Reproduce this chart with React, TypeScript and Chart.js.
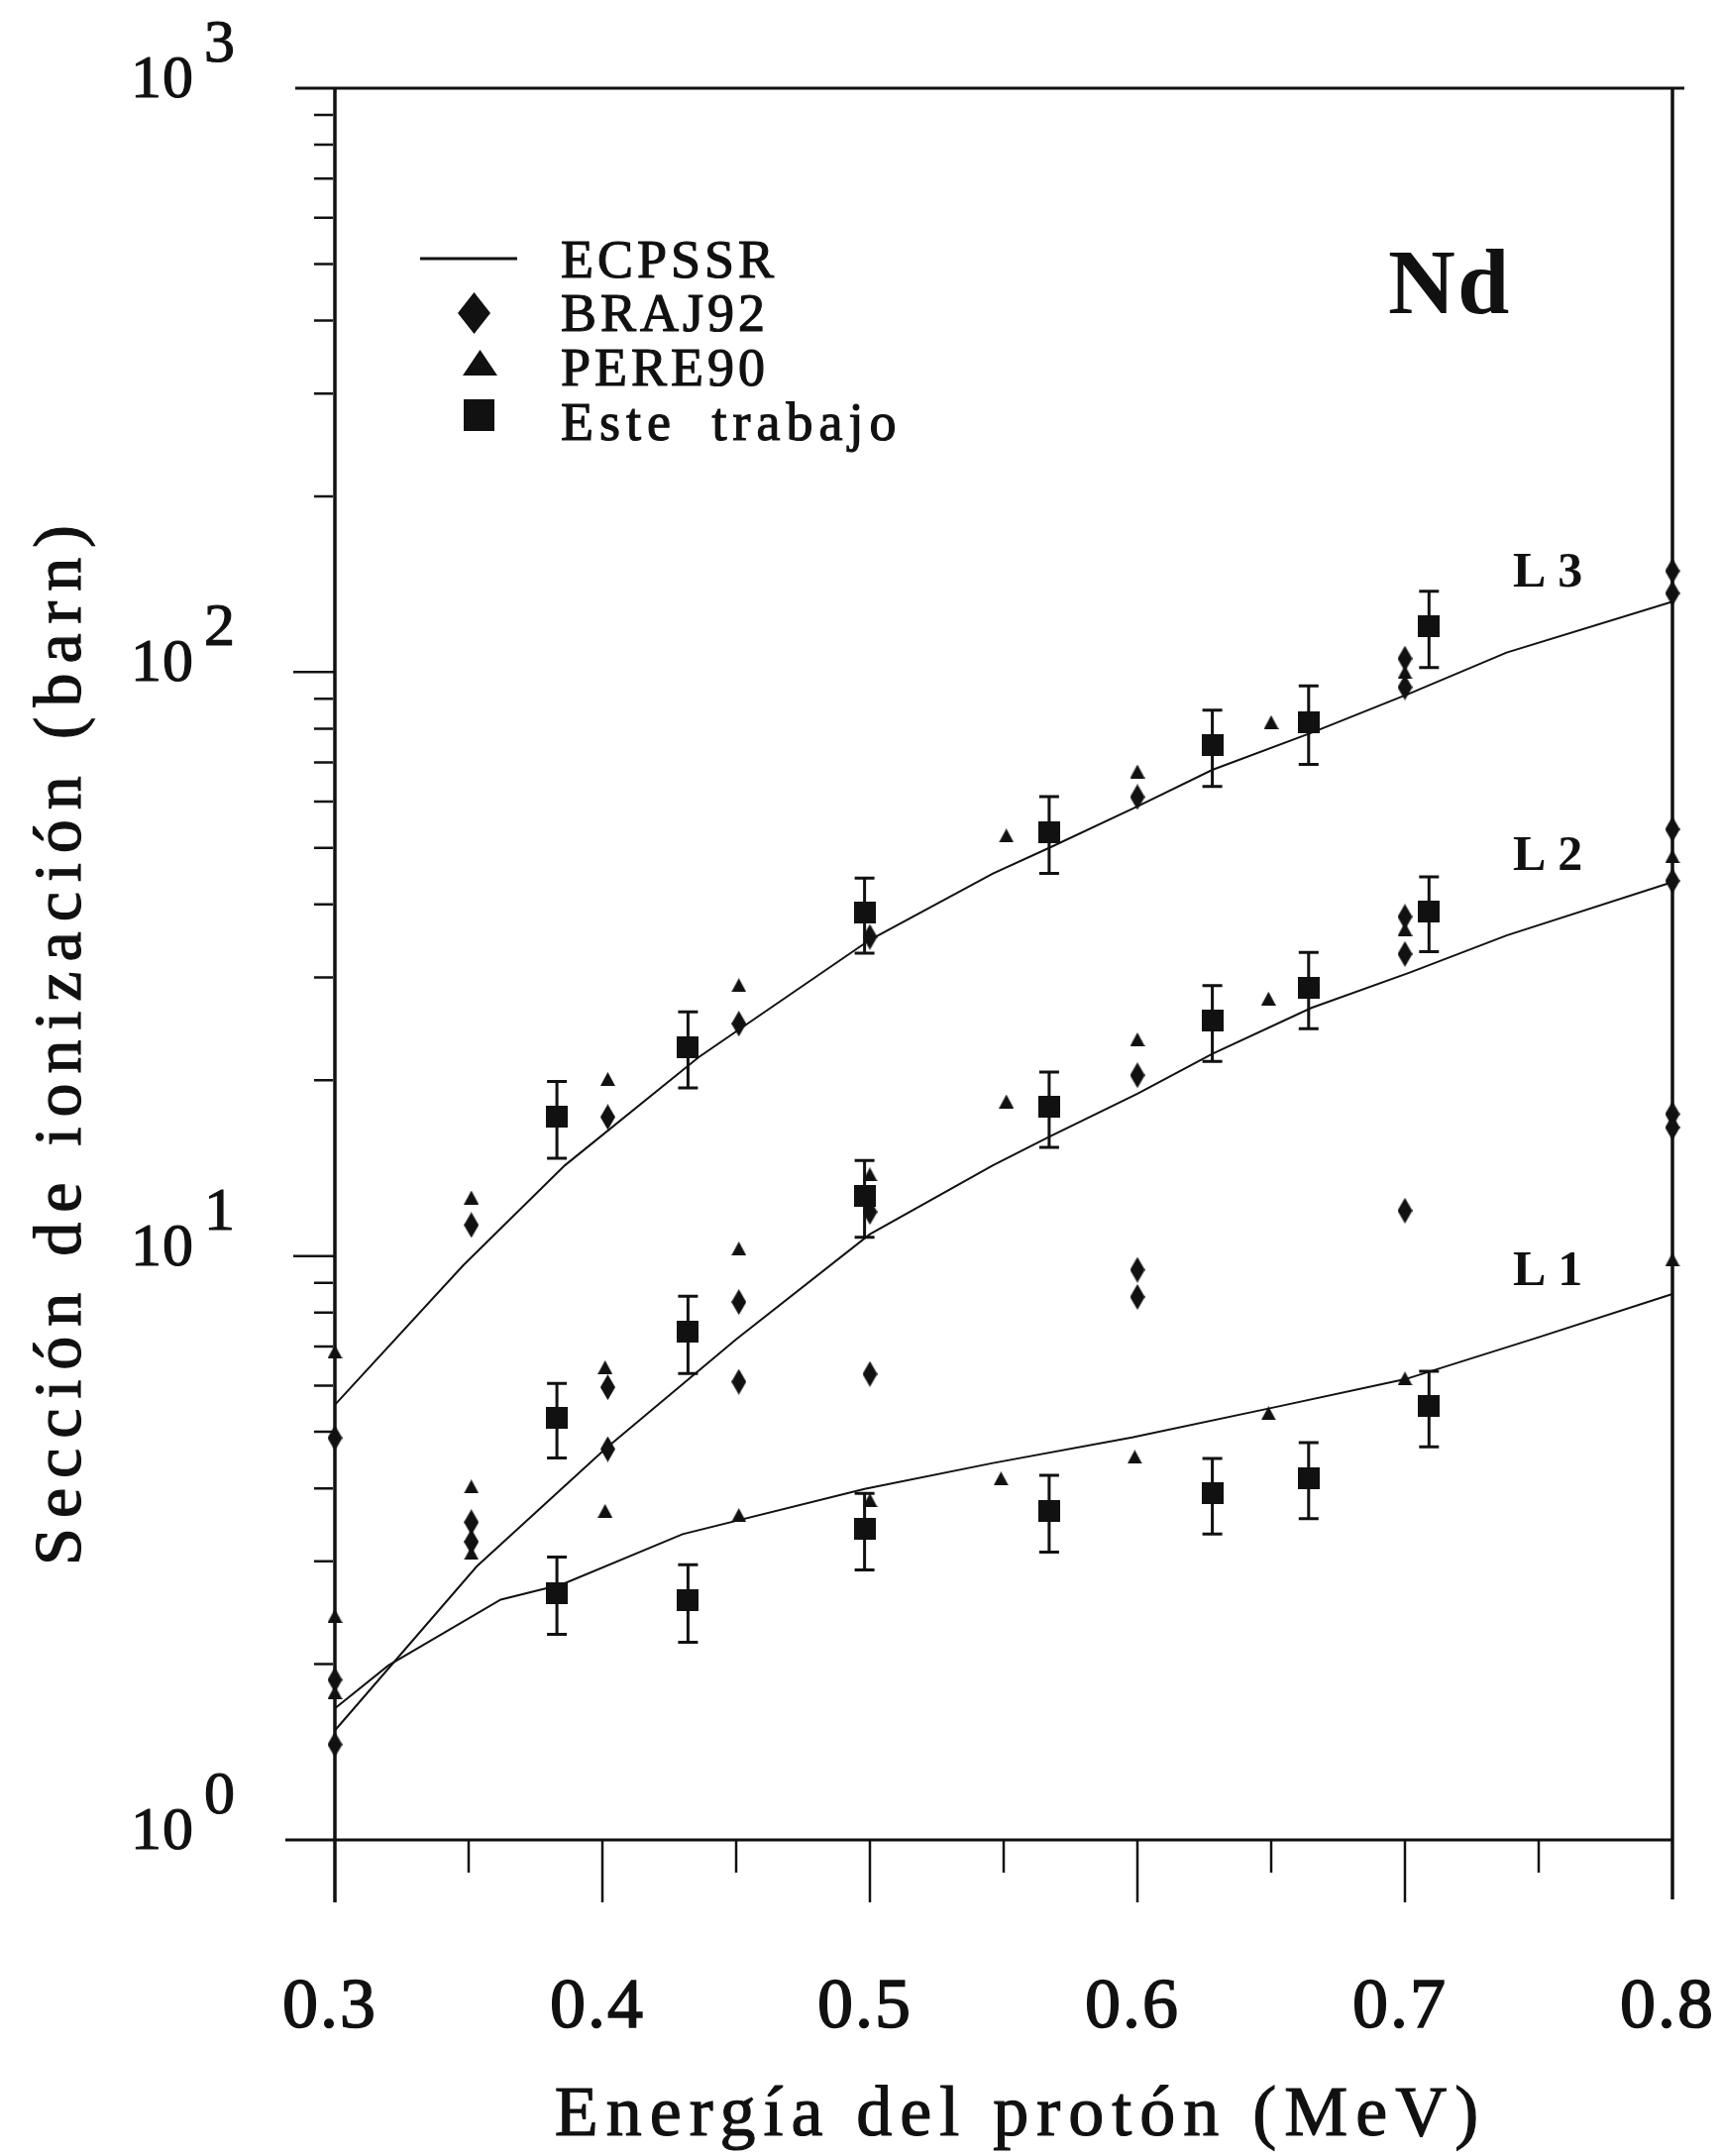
import React, { useEffect, useRef } from "react";
import { Chart, registerables } from "chart.js";

Chart.register(...registerables);

const W = 1737;
const H = 2176;
const INK = "#111";
const SERIF = '"Liberation Serif", "DejaVu Serif", serif';

// ECPSSR theory curves (energy in MeV, cross section in barn)
const ecpssrEnergyL3 = [0.3, 0.348, 0.386, 0.436, 0.5, 0.546, 0.567, 0.6, 0.628, 0.665, 0.702, 0.738, 0.8];
const ecpssrL3 = [5.56, 9.64, 14.3, 21.9, 34.8, 45.2, 50.0, 58.9, 68.0, 78.7, 92.0, 108, 132];
const ecpssrEnergyL2 = [0.3, 0.353, 0.401, 0.45, 0.5, 0.546, 0.567, 0.6, 0.628, 0.665, 0.702, 0.738, 0.8];
const ecpssrL2 = [1.54, 2.94, 4.67, 7.2, 10.9, 14.3, 16.0, 18.96, 22.2, 26.6, 30.6, 35.4, 43.7];
const ecpssrEnergyL1 = [0.3, 0.32, 0.362, 0.385, 0.43, 0.498, 0.546, 0.598, 0.649, 0.7, 0.75, 0.8];
const ecpssrL1 = [1.68, 1.99, 2.58, 2.74, 3.34, 3.99, 4.42, 4.89, 5.48, 6.15, 7.26, 8.61];

// BRAJ92
const brajEnergyL3 = [0.3, 0.351, 0.402, 0.451, 0.5, 0.6, 0.7, 0.7, 0.8, 0.8];
const brajL3 = [4.88, 11.3, 17.3, 25.0, 35.2, 61.1, 105.5, 94.2, 149, 136.5];
const brajEnergyL2 = [0.3, 0.351, 0.402, 0.451, 0.5, 0.6, 0.7, 0.7, 0.8, 0.8];
const brajL2 = [1.88, 3.5, 5.96, 8.34, 11.9, 20.4, 38.1, 32.9, 53.8, 43.9];
const brajEnergyL1 = [0.3, 0.351, 0.402, 0.451, 0.5, 0.6, 0.6, 0.7, 0.8, 0.8];
const brajL1 = [1.457, 3.24, 4.67, 6.09, 6.28, 9.47, 8.51, 11.96, 17.5, 16.6];

// PERE90
const pereEnergyL3 = [0.3, 0.351, 0.402, 0.451, 0.551, 0.6, 0.65, 0.7];
const pereL3 = [6.86, 12.6, 20.1, 29.1, 52.5, 67.6, 82.1, 100];
const pereEnergyL2 = [0.3, 0.351, 0.401, 0.451, 0.5, 0.551, 0.6, 0.649, 0.7, 0.8];
const pereL2 = [2.42, 4.03, 6.45, 10.3, 13.8, 18.4, 23.5, 27.6, 36.3, 48.4];
const pereEnergyL1 = [0.3, 0.351, 0.401, 0.451, 0.5, 0.549, 0.599, 0.649, 0.7, 0.8];
const pereL1 = [1.79, 3.1, 3.66, 3.6, 3.82, 4.16, 4.53, 5.38, 6.17, 9.86];

// Este trabajo (with absolute uncertainties)
const esteEnergy = [0.383, 0.432, 0.498, 0.567, 0.628, 0.664, 0.709];
const esteL3 = [17.3, 22.8, 38.7, 53.2, 74.9, 82.1, 119.7];
const esteErrL3 = [2.6, 3.4, 5.7, 8.0, 11.2, 12.6, 17.9];
const esteL2 = [5.28, 7.41, 12.67, 18.0, 25.3, 28.8, 38.9];
const esteErrL2 = [0.77, 1.12, 1.9, 2.65, 3.75, 4.3, 5.7];
const esteL1 = [2.65, 2.57, 3.41, 3.66, 3.92, 4.17, 5.53];
const esteErrL1 = [0.4, 0.39, 0.51, 0.55, 0.58, 0.62, 0.82];

// Axis ticks
const xMajorTicks = [0.3, 0.4, 0.5, 0.6, 0.7, 0.8];
const xMajorLabels = ["0.3", "0.4", "0.5", "0.6", "0.7", "0.8"];
const xMinorTicks = [0.35, 0.45, 0.55, 0.65, 0.75];
const yDecades = [1, 10, 100, 1000];
const yDecadeExponents = ["0", "1", "2", "3"];

const legendLabels = ["ECPSSR", "BRAJ92", "PERE90", "Este trabajo"];
const shellLabels = ["L3", "L2", "L1"];
const shellLabelValues = [140, 45.9, 8.93];

const pts = (xs: number[], ys: number[]) => xs.map((x, i) => ({ x, y: ys[i] }));

function markerCanvas(w: number, h: number, shape: "diamond" | "triangle" | "square") {
  const c = document.createElement("canvas");
  c.width = w;
  c.height = h;
  const g = c.getContext("2d")!;
  g.fillStyle = INK;
  g.beginPath();
  if (shape === "diamond") {
    g.moveTo(w / 2, 0);
    g.lineTo(w, h / 2);
    g.lineTo(w / 2, h);
    g.lineTo(0, h / 2);
  } else if (shape === "triangle") {
    g.moveTo(w / 2, 0);
    g.lineTo(w, h);
    g.lineTo(0, h);
  } else {
    g.rect(0, 0, w, h);
  }
  g.closePath();
  g.fill();
  return c;
}

// filled text with a thin outline so the glyphs read a little heavier
function inkText(ctx: CanvasRenderingContext2D, t: string, x: number, y: number, weight = 1.2) {
  ctx.fillText(t, x, y);
  ctx.lineWidth = weight;
  ctx.strokeText(t, x, y);
}

export default function App() {
  const ref = useRef<HTMLCanvasElement | null>(null);

  useEffect(() => {
    const canvas = ref.current;
    if (!canvas) return;

    const diamond = markerCanvas(15, 26, "diamond");
    const triangle = markerCanvas(15, 14, "triangle");
    const square = markerCanvas(22, 22, "square");
    const legDiamond = markerCanvas(33, 42, "diamond");
    const legTriangle = markerCanvas(35, 26, "triangle");
    const legSquare = markerCanvas(31, 32, "square");

    const curve = (data: { x: number; y: number }[]) => ({
      data,
      showLine: true,
      borderColor: INK,
      borderWidth: 2,
      pointRadius: 0,
      clip: false as const,
      order: 3,
    });
    const marks = (data: { x: number; y: number }[], style: HTMLCanvasElement) => ({
      data,
      showLine: false,
      pointStyle: style,
      pointRadius: 8,
      backgroundColor: INK,
      borderColor: INK,
      clip: false as const,
      order: 1,
    });

    const esteSets = [
      { vals: esteL3, errs: esteErrL3 },
      { vals: esteL2, errs: esteErrL2 },
      { vals: esteL1, errs: esteErrL1 },
    ];

    const framePlugin = {
      id: "frame",
      beforeDatasetsDraw(chart: any) {
        const ctx = chart.ctx;
        const xs = chart.scales.x;
        const ys = chart.scales.y;
        ctx.save();
        ctx.strokeStyle = INK;
        ctx.lineWidth = 3;
        esteSets.forEach((s) => {
          s.vals.forEach((v, i) => {
            const px = xs.getPixelForValue(esteEnergy[i]);
            const yLo = ys.getPixelForValue(v - s.errs[i]);
            const yHi = ys.getPixelForValue(v + s.errs[i]);
            ctx.beginPath();
            ctx.moveTo(px, yLo);
            ctx.lineTo(px, yHi);
            ctx.moveTo(px - 10, yLo);
            ctx.lineTo(px + 10, yLo);
            ctx.moveTo(px - 10, yHi);
            ctx.lineTo(px + 10, yHi);
            ctx.stroke();
          });
        });
        ctx.restore();
      },
      afterDraw(chart: any) {
        const ctx = chart.ctx;
        const xs = chart.scales.x;
        const ys = chart.scales.y;
        const { left, right, top, bottom } = chart.chartArea;
        ctx.save();
        ctx.strokeStyle = INK;
        ctx.fillStyle = INK;
        ctx.lineCap = "butt";

        // frame
        ctx.lineWidth = 3.5;
        ctx.beginPath();
        ctx.moveTo(left, top);
        ctx.lineTo(left, bottom + 63);
        ctx.moveTo(right, top);
        ctx.lineTo(right, bottom + 60);
        ctx.stroke();
        ctx.lineWidth = 3;
        ctx.beginPath();
        ctx.moveTo(left - 40, top);
        ctx.lineTo(right + 12, top);
        ctx.moveTo(left - 50, bottom);
        ctx.lineTo(right, bottom);
        ctx.stroke();

        // x ticks
        ctx.lineWidth = 2.5;
        ctx.beginPath();
        xMajorTicks.slice(1, -1).forEach((t) => {
          const px = xs.getPixelForValue(t);
          ctx.moveTo(px, bottom);
          ctx.lineTo(px, bottom + 63);
        });
        xMinorTicks.forEach((t) => {
          const px = xs.getPixelForValue(t);
          ctx.moveTo(px, bottom);
          ctx.lineTo(px, bottom + 33);
        });
        ctx.stroke();

        // y ticks
        ctx.beginPath();
        yDecades.slice(1, -1).forEach((d) => {
          const py = ys.getPixelForValue(d);
          ctx.moveTo(left - 42, py);
          ctx.lineTo(left, py);
        });
        yDecades.slice(0, -1).forEach((d) => {
          for (let m = 2; m <= 9; m++) {
            const py = ys.getPixelForValue(d * m);
            ctx.moveTo(left - 21, py);
            ctx.lineTo(left - 2, py);
          }
        });
        ctx.stroke();

        // x tick labels
        ctx.font = `72px ${SERIF}`;
        ctx.textAlign = "center";
        ctx.textBaseline = "alphabetic";
        (ctx as any).letterSpacing = "2px";
        xMajorTicks.forEach((t, i) => {
          inkText(ctx, xMajorLabels[i], xs.getPixelForValue(t) - 5, 2046, 1.6);
        });

        // y tick labels: 10 with raised exponent
        ctx.textAlign = "left";
        ctx.font = `62px ${SERIF}`;
        (ctx as any).letterSpacing = "1px";
        yDecades.forEach((d, i) => {
          const py = ys.getPixelForValue(d);
          inkText(ctx, "10", 132, py + 9);
          inkText(ctx, yDecadeExponents[i], 206, py - 27);
        });

        // axis titles
        ctx.font = `72px ${SERIF}`;
        (ctx as any).letterSpacing = "8px";
        ctx.textAlign = "center";
        inkText(ctx, "Energía del protón (MeV)", 1030, 2155);

        ctx.save();
        ctx.translate(81, 1050);
        ctx.rotate(-Math.PI / 2);
        ctx.font = `68px ${SERIF}`;
        (ctx as any).letterSpacing = "10px";
        inkText(ctx, "Sección de ionización (barn)", 0, 0);
        ctx.restore();

        // legend
        ctx.lineWidth = 3;
        ctx.beginPath();
        ctx.moveTo(424, 261);
        ctx.lineTo(522, 261);
        ctx.stroke();
        ctx.drawImage(legDiamond, 478 - 16, 316 - 21);
        ctx.drawImage(legTriangle, 484 - 17, 366 - 13);
        ctx.drawImage(legSquare, 483 - 15, 419 - 16);
        ctx.font = `54px ${SERIF}`;
        ctx.textAlign = "left";
        const legendBaselines = [280, 334, 389, 444];
        legendLabels.forEach((t, i) => {
          const last = i === legendLabels.length - 1;
          (ctx as any).letterSpacing = last ? "6px" : "4px";
          (ctx as any).wordSpacing = last ? "16px" : "0px";
          inkText(ctx, t, 566, legendBaselines[i]);
        });
        (ctx as any).wordSpacing = "0px";

        // element symbol
        ctx.font = `bold 94px ${SERIF}`;
        (ctx as any).letterSpacing = "2px";
        ctx.fillText("Nd", 1401, 316);

        // shell labels
        ctx.font = `bold 50px ${SERIF}`;
        (ctx as any).letterSpacing = "12px";
        shellLabels.forEach((t, i) => {
          ctx.fillText(t, 1527, ys.getPixelForValue(shellLabelValues[i]));
        });

        ctx.restore();
      },
    };

    const chart = new Chart(canvas, {
      type: "scatter",
      data: {
        datasets: [
          curve(pts(ecpssrEnergyL3, ecpssrL3)),
          curve(pts(ecpssrEnergyL2, ecpssrL2)),
          curve(pts(ecpssrEnergyL1, ecpssrL1)),
          marks(pts(brajEnergyL3, brajL3), diamond),
          marks(pts(brajEnergyL2, brajL2), diamond),
          marks(pts(brajEnergyL1, brajL1), diamond),
          marks(pts(pereEnergyL3, pereL3), triangle),
          marks(pts(pereEnergyL2, pereL2), triangle),
          marks(pts(pereEnergyL1, pereL1), triangle),
          marks(pts(esteEnergy, esteL3), square),
          marks(pts(esteEnergy, esteL2), square),
          marks(pts(esteEnergy, esteL1), square),
        ] as any,
      },
      options: {
        animation: false,
        responsive: false,
        devicePixelRatio: 1,
        events: [],
        layout: { padding: { left: 338, right: W - 1688, top: 89, bottom: H - 1857 } },
        plugins: { legend: { display: false }, tooltip: { enabled: false } },
        scales: {
          x: { type: "linear", min: 0.3, max: 0.8, display: false },
          y: { type: "logarithmic", min: 1, max: 1000, display: false },
        },
      },
      plugins: [framePlugin],
    });

    return () => chart.destroy();
  }, []);

  return (
    <div style={{ position: "absolute", left: 0, top: 0, width: W, height: H, background: "#fff" }}>
      <canvas ref={ref} width={W} height={H} style={{ width: W, height: H, display: "block" }} />
    </div>
  );
}
